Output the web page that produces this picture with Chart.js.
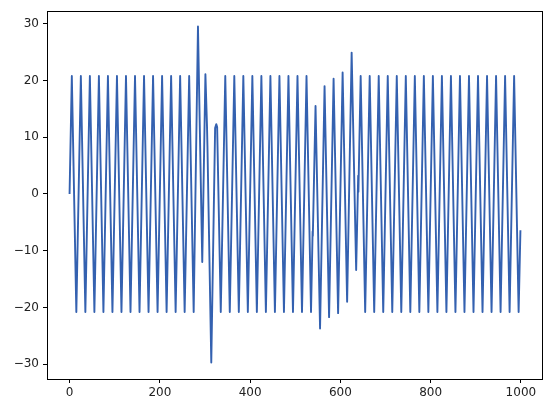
<!DOCTYPE html>
<html>
<head>
<meta charset="utf-8">
<script src="https://cdn.jsdelivr.net/npm/chart.js@4"></script>
<style>
  html, body { margin: 0; padding: 0; background: #fff; }
  #wrap { width: 550px; height: 406px; }
</style>
</head>
<body>
<div id="wrap"><canvas id="chart"></canvas></div>
<script>
// turning points of the signal
const xValues = [
  0, 5, 15, 25, 35, 45, 55, 65, 75, 85, 95, 105, 115, 125, 135, 145, 155, 165, 175, 185,
  195, 205, 215, 225, 235, 245, 255, 265, 275,
  284.5, 294, 301, 304.5, 305.5, 314, 322.5, 325, 327, 335,
  345, 355, 365, 375, 385, 395, 405, 415, 425, 435, 445, 455, 465, 475, 485, 495,
  505, 515, 525, 535,
  538.5, 539, 545, 555, 565, 575, 585, 595, 605, 615, 625, 635, 639.5, 640,
  645, 655, 665, 675, 685, 695, 705, 715, 725, 735, 745, 755, 765, 775, 785, 795,
  805, 815, 825, 835, 845, 855, 865, 875, 885, 895, 905, 915, 925, 935, 945, 955,
  965, 975, 985, 995, 999,
]
const yValues = [
  0, 20.8, -20.8, 20.8, -20.8, 20.8, -20.8, 20.8, -20.8, 20.8, -20.8, 20.8, -20.8, 20.8, -20.8, 20.8, -20.8, 20.8, -20.8, 20.8,
  -20.8, 20.8, -20.8, 20.8, -20.8, 20.8, -20.8, 20.8, -20.8,
  29.5, -12.0, 21.1, 12.0, 8.5, -29.7, 11.6, 12.3, 11.8, -20.8,
  20.8, -20.8, 20.8, -20.8, 20.8, -20.8, 20.8, -20.8, 20.8, -20.8, 20.8, -20.8, 20.8, -20.8, 20.8, -20.8,
  20.8, -20.8, 20.8, -20.8,
  -6.6, -7.4, 15.5, -23.7, 19.0, -21.7, 20.3, -21.0, 21.4, -19.0, 24.9, -13.4, 3.2, 0.4,
  20.8, -20.8, 20.8, -20.8, 20.8, -20.8, 20.8, -20.8, 20.8, -20.8, 20.8, -20.8, 20.8, -20.8, 20.8, -20.8,
  20.8, -20.8, 20.8, -20.8, 20.8, -20.8, 20.8, -20.8, 20.8, -20.8, 20.8, -20.8, 20.8, -20.8, 20.8, -20.8,
  20.8, -20.8, 20.8, -20.8, -6.4,
]
const xTicks = [0, 200, 400, 600, 800, 1000]
const yTicks = [-30, -20, -10, 0, 10, 20, 30]

const fmt = (v) => String(v).replace("-", "\u2212")

// matplotlib-like box around the plot area
const frame = {
  id: "frame",
  afterDatasetsDraw(chart) {
    const { ctx, chartArea: a } = chart
    const l = Math.round(a.left), t = Math.round(a.top)
    const r = Math.round(a.right), b = Math.round(a.bottom)
    ctx.save()
    ctx.strokeStyle = "#000"
    ctx.lineWidth = 1
    ctx.strokeRect(l + 0.5, t + 0.5, r - l - 1, b - t)
    ctx.restore()
  },
}

const tickFont = { family: "DejaVu Sans", size: 12 }

new Chart(document.getElementById("chart"), {
  type: "line",
  data: {
    datasets: [
      {
        data: xValues.map((x, i) => ({ x, y: yValues[i] })),
        borderColor: "#3461b0",
        borderWidth: 1.9,
        borderJoinStyle: "round",
        pointRadius: 0,
        tension: 0,
      },
    ],
  },
  options: {
    animation: false,
    responsive: true,
    maintainAspectRatio: false,
    devicePixelRatio: 1,
    layout: { padding: { top: 10, right: 7, left: 0, bottom: 0 } },
    plugins: {
      legend: { display: false },
      tooltip: { enabled: false },
    },
    events: [],
    scales: {
      x: {
        type: "linear",
        min: -50,
        max: 1049,
        afterBuildTicks: (s) => { s.ticks = xTicks.map((v) => ({ value: v })) },
        afterFit: (s) => { s.height = 27 },
        grid: { drawOnChartArea: false, tickLength: 4, tickColor: "#000", tickWidth: 1 },
        border: { display: false },
        ticks: {
          color: "#222",
          font: tickFont,
          padding: 3,
          maxRotation: 0,
          autoSkip: false,
          callback: (v) => fmt(v),
        },
      },
      y: {
        min: -32.6,
        max: 32.2,
        afterBuildTicks: (s) => { s.ticks = yTicks.map((v) => ({ value: v })) },
        afterFit: (s) => { s.width = 47 },
        grid: { drawOnChartArea: false, tickLength: 4, tickColor: "#000", tickWidth: 1 },
        border: { display: false },
        ticks: {
          color: "#222",
          font: tickFont,
          padding: 4,
          autoSkip: false,
          callback: (v) => fmt(v),
        },
      },
    },
  },
  plugins: [frame],
})
</script>
</body>
</html>
